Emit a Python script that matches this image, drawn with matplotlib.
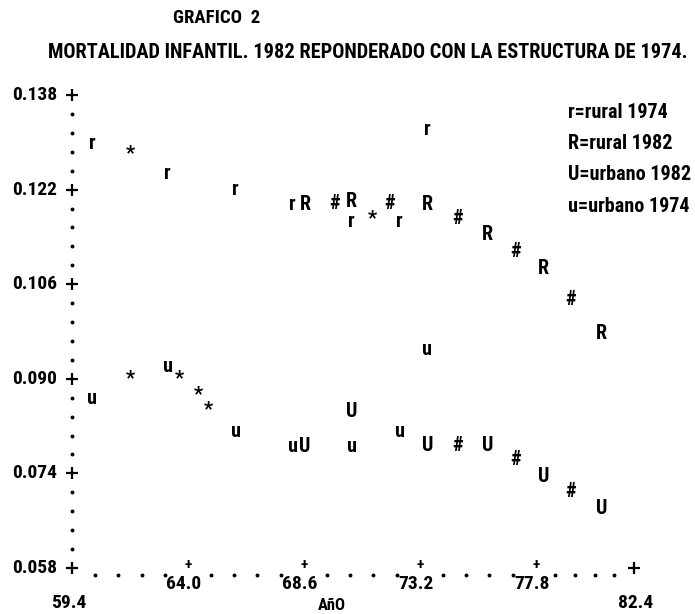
import matplotlib
matplotlib.use('Agg')
import matplotlib.pyplot as plt
from matplotlib.transforms import offset_copy

FONT = ['Roboto Condensed', 'Liberation Serif', 'DejaVu Serif']
plt.rcParams['font.family'] = FONT
plt.rcParams['font.weight'] = 'bold'

title = 'GRAFICO  2'
subtitle = 'MORTALIDAD INFANTIL. 1982 REPONDERADO CON LA ESTRUCTURA DE 1974.'
x_label = 'AñO'

x_ticks = [59.4, 64.0, 68.6, 73.2, 77.8]
x_tick_labels = ['59.4', '64.0', '68.6', '73.2', '77.8']
x_end = 81.7
x_end_label = '82.4'
y_ticks = [0.058, 0.074, 0.090, 0.106, 0.122, 0.138]
y_tick_labels = ['0.058', '0.074', '0.090', '0.106', '0.122', '0.138']

# series (symbol drawn at each point)
rural74_x = [60.2, 63.2, 65.9, 68.15, 70.5, 72.4, 73.5]
rural74_y = [0.1298, 0.1247, 0.1220, 0.1195, 0.1166, 0.1166, 0.1322]
rural82_x = [68.65, 70.5, 73.5, 75.9, 78.1, 80.4]
rural82_y = [0.1195, 0.1200, 0.1195, 0.1144, 0.1086, 0.0976]
urban82_x = [68.65, 70.5, 73.5, 75.9, 78.1, 80.4]
urban82_y = [0.0785, 0.0844, 0.0788, 0.0788, 0.0734, 0.0680]
urban74_x = [60.2, 63.2, 65.9, 68.15, 70.5, 72.4, 73.5]
urban74_y = [0.0867, 0.0921, 0.0811, 0.0785, 0.0785, 0.0811, 0.0949]
star_x = [61.7, 71.3, 61.7, 63.65, 64.4, 64.8]
star_y = [0.1281, 0.1171, 0.0900, 0.0900, 0.0873, 0.0848]
hash_x = [69.8, 72.0, 74.7, 77.0, 79.2, 74.7, 77.0, 79.2]
hash_y = [0.1196, 0.1196, 0.1171, 0.1115, 0.1034, 0.0788, 0.0763, 0.0709]

series = [('r', rural74_x, rural74_y), ('R', rural82_x, rural82_y),
          ('U', urban82_x, urban82_y), ('u', urban74_x, urban74_y),
          ('*', star_x, star_y), ('#', hash_x, hash_y)]
legend_labels = ['r=rural 1974', 'R=rural 1982', 'U=urbano 1982', 'u=urbano 1974']

W, H = 695, 614
fig = plt.figure(figsize=(W / 100, H / 100), dpi=100)
fig.patch.set_facecolor('white')
ax_left, ax_right, ax_top, ax_bot = 72, 634, 95, 568
ax = fig.add_axes([ax_left / W, 1 - ax_bot / H, (ax_right - ax_left) / W, (ax_bot - ax_top) / H])
ax.set_xlim(x_ticks[0], x_end)
ax.set_ylim(y_ticks[0], y_ticks[-1])
ax.axis('off')

FS = 14
SYM = 14.5

# y axis: ticks and dots
x0 = x_ticks[0]
for i, yt in enumerate(y_ticks):
    ax.plot([x0], [yt], marker='+', ms=8, mew=1.6, color='black', clip_on=False)
    ax.annotate(y_tick_labels[i], (x0, yt), xytext=(-15, 0), textcoords='offset pixels',
                ha='right', va='center', fontsize=FS, annotation_clip=False)
    if i < len(y_ticks) - 1:
        step = (y_ticks[i + 1] - yt) / 5
        ax.plot([x0] * 4, [yt + step * k for k in range(1, 5)], 'o', ms=1.8,
                color='black', clip_on=False)

# x axis
y0 = y_ticks[0]
dot_tr = offset_copy(ax.transData, fig=fig, x=0, y=-7, units='dots')
all_x = x_ticks + [x_end]
for i in range(len(all_x) - 1):
    step = (all_x[i + 1] - all_x[i]) / 5
    ax.plot([all_x[i] + step * k for k in range(1, 5)], [y0] * 4, 'o', ms=1.8,
            color='black', clip_on=False, transform=dot_tr)
for i, xt in enumerate(x_ticks):
    if i == 0:
        ax.annotate(x_tick_labels[i], (xt, y0), xytext=(-3, -35), textcoords='offset pixels',
                    ha='center', va='center', fontsize=FS, annotation_clip=False)
        continue
    ax.annotate('+', (xt, y0), xytext=(0, 3), textcoords='offset pixels',
                ha='center', va='center', fontsize=FS - 3, annotation_clip=False)
    ax.annotate(x_tick_labels[i], (xt, y0), xytext=(-4, -16), textcoords='offset pixels',
                ha='center', va='center', fontsize=FS, annotation_clip=False)
ax.plot([x_end], [y0], marker='+', ms=8, mew=1.6, color='black', clip_on=False)
ax.annotate(x_end_label, (x_end, y0), xytext=(2, -35), textcoords='offset pixels',
            ha='center', va='center', fontsize=FS, annotation_clip=False)
ax.annotate(x_label, (x_ticks[2], y0), xytext=(28, -37), textcoords='offset pixels',
            ha='center', va='center', fontsize=FS - 2, annotation_clip=False)

# data symbols
for sym, xs, ys in series:
    for xv, yv in zip(xs, ys):
        ax.text(xv, yv, sym, ha='center', va='center', fontsize=SYM, clip_on=False)

# legend
for i, lab in enumerate(legend_labels):
    fig.text(568 / W, 1 - (112 + 31.5 * i) / H, lab, ha='left', va='center', fontsize=14.5)

# titles
fig.text(173 / W, 1 - 18 / H, title, ha='left', va='center', fontsize=13.5)
fig.text(48 / W, 1 - 52 / H, subtitle, ha='left', va='center', fontsize=14.7)

fig.savefig('out.png', dpi=100, facecolor='white')
